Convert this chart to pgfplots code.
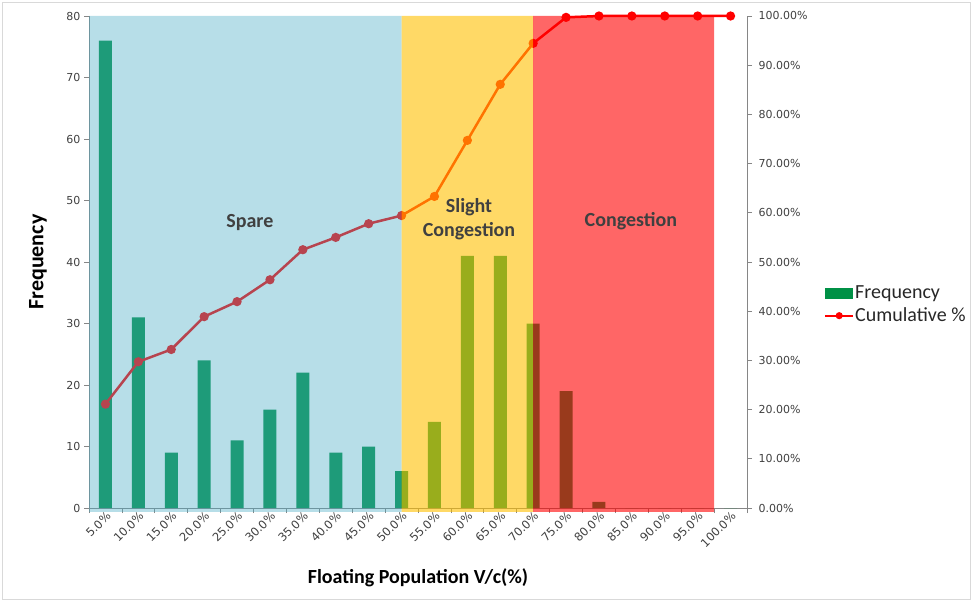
\documentclass[border=0pt]{standalone}
\usepackage{pgfplots}
\pgfplotsset{compat=1.18}
\usepackage{pgfplotstable}
\usepackage{fontspec}
\setmainfont{Carlito}
\newfontfamily\tickfont{DejaVu Sans}
\definecolor{bargreen}{RGB}{0,145,70}
\definecolor{bandblue}{RGB}{75,172,198}
\definecolor{bandyellow}{RGB}{255,192,0}
\definecolor{bandred}{RGB}{255,0,0}
\definecolor{axgray}{RGB}{134,134,134}
\definecolor{txtgray}{RGB}{64,64,64}
\definecolor{framegray}{RGB}{217,217,217}

\pgfplotstableread{
x freq cum
0.5 76 21.11
1.5 31 29.72
2.5 9 32.22
3.5 24 38.89
4.5 11 41.94
5.5 16 46.39
6.5 22 52.50
7.5 9 55.00
8.5 10 57.78
9.5 6 59.44
10.5 14 63.33
11.5 41 74.72
12.5 41 86.11
13.5 30 94.44
14.5 19 99.72
15.5 1 100
16.5 0 100
17.5 0 100
18.5 0 100
19.5 0 100
}\datatable

\begin{document}
\begin{tikzpicture}[x=1pt,y=1pt]
\useasboundingbox (0,0) rectangle (973,602);
\draw[framegray] (2.5,2.5) rectangle (970.5,599.5);
\begin{axis}[
  at={(89pt,94pt)}, anchor=south west,
  scale only axis, width=658pt, height=492pt,
  xmin=0, xmax=20, ymin=0, ymax=80,
  axis x line*=bottom, axis y line*=left,
  axis line style={axgray, line width=0.8pt, -},
  tick align=outside, major tick length=5pt,
  tick style={axgray, line width=0.8pt},
  xtick={0,1,...,20}, xticklabels={},
  extra x ticks={0.5,1.5,...,19.5},
  extra x tick labels={5.0\%,10.0\%,15.0\%,20.0\%,25.0\%,30.0\%,35.0\%,40.0\%,45.0\%,50.0\%,55.0\%,60.0\%,65.0\%,70.0\%,75.0\%,80.0\%,85.0\%,90.0\%,95.0\%,100.0\%},
  extra x tick style={major tick length=0pt, tick label style={rotate=45, anchor=north east, inner sep=2pt, font=\tickfont\fontsize{11.5}{12}\selectfont, text=txtgray}},
  ytick={0,10,...,80},
  yticklabel style={font=\tickfont\fontsize{11}{12}\selectfont, text=txtgray},
  /pgf/number format/assume math mode=true,
  xlabel={\bfseries Floating Population V/c(\%)},
  xlabel style={at={(axis description cs:0.5,-0.142)}, anchor=center, font=\fontsize{20}{22}\selectfont, text=black},
  ylabel={\bfseries Frequency},
  ylabel style={at={(axis description cs:-0.0775,0.5)}, anchor=center, font=\fontsize{22}{24}\selectfont, text=black},
]
\addplot[ybar, bar width=13pt, bar shift=0pt, fill=bargreen, draw=none] table[x=x,y=freq]{\datatable};
\end{axis}
\begin{axis}[
  at={(89pt,94pt)}, anchor=south west,
  scale only axis, width=658pt, height=492pt,
  xmin=0, xmax=20, ymin=0, ymax=100,
  axis x line=none, axis y line*=right,
  axis line style={axgray, line width=0.8pt, -},
  tick align=outside, major tick length=5pt,
  tick style={axgray, line width=0.8pt},
  ytick={0,10,...,100},
  /pgf/number format/assume math mode=true,
  yticklabel={\pgfmathprintnumber[fixed,fixed zerofill,precision=2]{\tick}\%},
  yticklabel style={font=\tickfont\fontsize{11}{12}\selectfont, text=txtgray, xshift=3pt},
  clip=false,
  legend style={at={(rel axis cs:1.117,0.4136)}, anchor=west, draw=none, fill=none,
    font=\fontsize{20}{22}\selectfont, row sep=6pt, inner sep=0pt,
    nodes={inner sep=1pt, text=txtgray!60!black}},
  legend cell align=left,
]
\addlegendimage{legend image code/.code={\fill[bargreen] (0pt,-5pt) rectangle (27pt,5pt);}}
\addlegendentry{Frequency}
\addplot[red, line width=2.5pt, mark=*, mark size=3.3pt,
  legend image code/.code={\draw[red, line width=2pt, mark=*, mark size=2.5pt, mark repeat=2, mark phase=2] plot coordinates {(0pt,0pt)(14pt,0pt)(28pt,0pt)};}]
  table[x=x,y=cum]{\datatable};
\addlegendentry{Cumulative \%}
\end{axis}
\begin{axis}[
  at={(89pt,94pt)}, anchor=south west,
  scale only axis, width=658pt, height=492pt,
  xmin=0, xmax=20, ymin=0, ymax=100,
  axis x line=none, axis y line=none, ticks=none,
  clip=false,
]
\addplot[fill=bandblue, fill opacity=0.4, draw=none] coordinates {(0,-0.8)(9.5,-0.8)(9.5,100)(0,100)(0,-0.8)};
\addplot[fill=bandyellow, fill opacity=0.6, draw=none] coordinates {(9.5,-0.8)(13.5,-0.8)(13.5,100)(9.5,100)(9.5,-0.8)};
\addplot[fill=bandred, fill opacity=0.6, draw=none] coordinates {(13.5,-0.8)(19,-0.8)(19,100)(13.5,100)(13.5,-0.8)};
\node[font=\bfseries\fontsize{20}{22}\selectfont, text=txtgray] at (axis cs:4.89,58.1) {Spare};
\node[font=\bfseries\fontsize{20}{24}\selectfont, text=txtgray, align=center] at (axis cs:11.55,58.7) {Slight\\Congestion};
\node[font=\bfseries\fontsize{20}{22}\selectfont, text=txtgray] at (axis cs:16.47,58.3) {Congestion};
\end{axis}
\end{tikzpicture}
\end{document}
